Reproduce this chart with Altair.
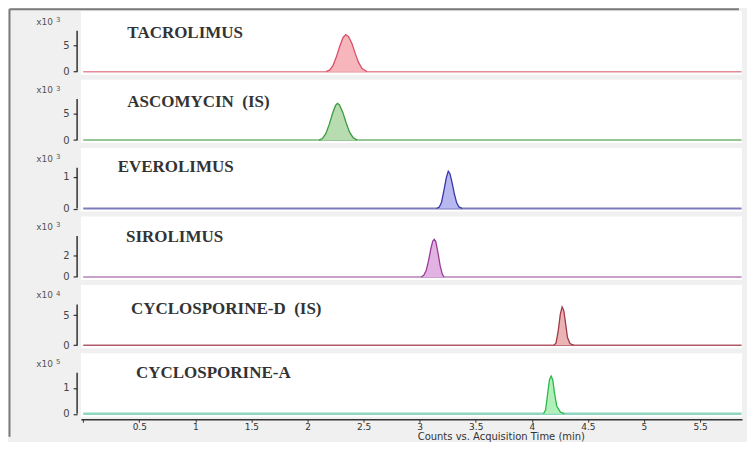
import altair as alt
import pandas as pd

# ---------------- data ----------------
names = ["TACROLIMUS", "ASCOMYCIN\u00a0\u00a0(IS)", "EVEROLIMUS", "SIROLIMUS",
         "CYCLOSPORINE-D\u00a0\u00a0(IS)", "CYCLOSPORINE-A"]
exponents = ["3", "3", "3", "3", "4", "5"]
y_ticks = [[0, 5], [0, 5], [0, 1], [0, 2], [0, 5], [0, 1]]
axis_top = [7.7, 7.7, 1.29, 3.9, 6.83, 1.58]
x_ticks = [0, 0.5, 1, 1.5, 2, 2.5, 3, 3.5, 4, 4.5, 5, 5.5, 6]
time_range = [0.0, 5.87]

tac_t = [2.166, 2.196, 2.226, 2.256, 2.286, 2.316, 2.341, 2.366, 2.396, 2.426, 2.456, 2.486, 2.531]
tac_v = [0.0, 0.3, 1.1, 2.7, 4.7, 6.4, 7.0, 6.6, 5.3, 3.4, 1.7, 0.6, 0.0]

asc_t = [2.103, 2.133, 2.163, 2.193, 2.223, 2.250, 2.267, 2.285, 2.315, 2.345, 2.375, 2.405, 2.442]
asc_v = [0.0, 0.3, 1.2, 2.9, 5.0, 6.5, 6.9, 6.6, 5.2, 3.2, 1.5, 0.5, 0.0]

eve_t = [3.151, 3.175, 3.195, 3.215, 3.238, 3.255, 3.270, 3.290, 3.310, 3.330, 3.350, 3.379]
eve_v = [0.0, 0.05, 0.2, 0.55, 0.98, 1.18, 1.1, 0.8, 0.45, 0.18, 0.05, 0.0]

sir_t = [3.014, 3.036, 3.058, 3.078, 3.100, 3.116, 3.130, 3.143, 3.162, 3.182, 3.202, 3.216]
sir_v = [0.0, 0.15, 0.6, 1.5, 2.7, 3.4, 3.58, 3.4, 2.4, 1.1, 0.25, 0.0]

cyd_t = [4.196, 4.216, 4.236, 4.254, 4.270, 4.285, 4.300, 4.318, 4.340, 4.374]
cyd_v = [0.0, 0.4, 2.5, 5.2, 6.4, 5.8, 3.8, 1.3, 0.3, 0.0]

cya_t = [4.105, 4.123, 4.142, 4.157, 4.172, 4.187, 4.202, 4.222, 4.255, 4.291]
cya_v = [0.0, 0.15, 0.8, 1.3, 1.45, 1.3, 0.8, 0.3, 0.06, 0.0]

peaks_t = [tac_t, asc_t, eve_t, sir_t, cyd_t, cya_t]
peaks_v = [tac_v, asc_v, eve_v, sir_v, cyd_v, cya_v]

# ---------------- styles / layout ----------------
base_colors = ["#e48c98", "#74b474", "#7c7cbc", "#b482b8", "#b05a6a", "#8ed6bf"]
base_widths = [1.5, 1.5, 2.0, 1.5, 1.5, 2.5]
line_colors = ["#d9506a", "#3c9a40", "#3838a8", "#9a3c9a", "#a03a48", "#2cb84a"]
fill_colors = ["#f6b6bc", "#b6dcb0", "#b8b8f0", "#e2b2e2", "#eab4b4", "#b2f0ba"]
y_domains = [[-0.564, 11.37], [-0.562, 11.33], [-0.0946, 1.909],
             [-0.286, 5.762], [-0.5, 10.083], [-0.115, 2.327]]
label_pos = [(46.5, 26.6), (46.5, 26.9), (36.8, 24.1), (45.2, 25.5), (50.2, 29.5), (55.2, 24.4)]

W, H = 662, 63.5
X_DOMAIN = [-0.0205, 5.874]
TEXT = "#333333"


def panel(i, last):
    peak_df = pd.DataFrame({"t": peaks_t[i], "v": peaks_v[i]})
    base_df = pd.DataFrame({"t": time_range, "v": [0, 0]})
    xscale = alt.Scale(domain=X_DOMAIN, nice=False, zero=False)
    yscale = alt.Scale(domain=y_domains[i], nice=False, zero=False)
    if last:
        xaxis = alt.Axis(values=x_ticks, format="~g",
                         labelExpr="datum.value == 0 ? '' : datum.label",
                         tickSize=3, offset=2.5, domainColor=TEXT, domainWidth=1.5,
                         tickColor=TEXT, tickWidth=1, labelFont="DejaVu Sans",
                         labelFontSize=9, labelColor=TEXT, labelPadding=0.5,
                         grid=False,
                         title="Counts vs. Acquisition Time (min)",
                         titleFont="DejaVu Sans", titleFontSize=10,
                         titleFontWeight="normal", titleColor=TEXT,
                         titleX=420.5, titleY=20.5, titleBaseline="alphabetic",
                         titleAlign="center")
    else:
        xaxis = None
    yaxis = alt.Axis(values=y_ticks[i], format="d", title=None, domain=False,
                     grid=False, offset=3.8, tickSize=4, tickColor=TEXT,
                     tickWidth=1.2, labelFont="DejaVu Sans", labelFontSize=10,
                     labelColor="#444444", labelPadding=4)

    base = alt.Chart(base_df).mark_line(
        color=base_colors[i], strokeWidth=base_widths[i]).encode(
        x=alt.X("t:Q", scale=xscale, axis=xaxis),
        y=alt.Y("v:Q", scale=yscale, axis=yaxis))
    area = alt.Chart(peak_df).mark_area(color=fill_colors[i], opacity=1).encode(
        x="t:Q", y="v:Q", y2=alt.datum(0))
    line = alt.Chart(peak_df).mark_line(color=line_colors[i], strokeWidth=1.3).encode(
        x="t:Q", y="v:Q")
    yline = alt.Chart(pd.DataFrame({"v": [0], "v2": [axis_top[i]]})).mark_rule(
        color=TEXT, strokeWidth=1.5).encode(x=alt.value(-3.8), y="v:Q", y2="v2:Q")
    lx, ly = label_pos[i]
    name_txt = alt.Chart(pd.DataFrame({"n": [names[i]]})).mark_text(
        align="left", baseline="alphabetic", font="Liberation Serif",
        fontWeight="bold", fontSize=17, color="#333333").encode(
        x=alt.value(lx), y=alt.value(ly), text="n:N")
    exp_df = pd.DataFrame({"a": ["x10"], "e": [exponents[i]]})
    exp1 = alt.Chart(exp_df).mark_text(
        align="right", baseline="middle", font="DejaVu Sans", fontSize=9,
        color="#555555").encode(x=alt.value(-28), y=alt.value(10.5), text="a:N")
    exp2 = alt.Chart(exp_df).mark_text(
        align="left", baseline="middle", font="DejaVu Sans", fontSize=7,
        color="#555555").encode(x=alt.value(-25), y=alt.value(9), text="e:N")
    layers = [base, area, line, yline, name_txt, exp1, exp2]
    if i == 0:
        fdf = pd.DataFrame({"k": [0]})
        left = alt.Chart(fdf).mark_rule(color="#7a7a7a", strokeWidth=2).encode(
            x=alt.value(-71.5), y=alt.value(-2), y2=alt.value(426))
        top = alt.Chart(fdf).mark_rule(color="#7a7a7a", strokeWidth=2).encode(
            x=alt.value(-71.5), x2=alt.value(W - 3), y=alt.value(-2))
        layers += [left, top]
    return alt.layer(*layers).properties(width=W, height=H)


chart = alt.vconcat(*[panel(i, i == 5) for i in range(6)], spacing=4.5,
                    bounds="flush").properties(
    padding={"left": 0, "top": 0, "right": 0, "bottom": 0},
    background="#f0f0f0").configure_view(strokeWidth=0, fill="white")

chart.save("out.html", embed_options={"renderer": "svg", "actions": False})
